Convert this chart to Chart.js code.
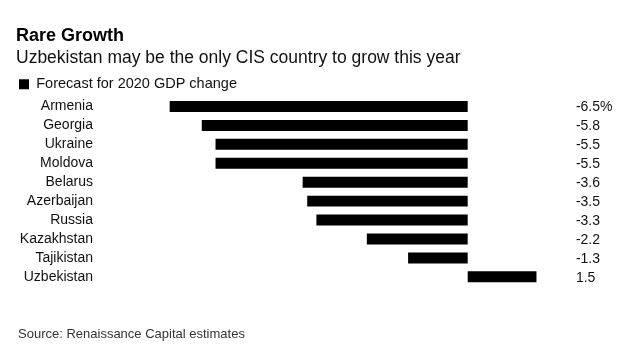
<!DOCTYPE html>
<html>
<head>
<meta charset="utf-8">
<script src="https://cdn.jsdelivr.net/npm/chart.js@4/dist/chart.umd.min.js"></script>
<style>
  html, body { margin: 0; padding: 0; background: #fff; }
  #wrap { position: relative; width: 641px; height: 357px; }
</style>
</head>
<body>
<div id="wrap"><canvas id="c" width="641" height="357"></canvas></div>
<script>
const titleText = 'Rare Growth';
const subtitleText = 'Uzbekistan may be the only CIS country to grow this year';
const seriesLabel = 'Forecast for 2020 GDP change';
const sourceText = 'Source: Renaissance Capital estimates';
const countries = ['Armenia', 'Georgia', 'Ukraine', 'Moldova', 'Belarus', 'Azerbaijan', 'Russia', 'Kazakhstan', 'Tajikistan', 'Uzbekistan'];
const gdpChange = [-6.5, -5.8, -5.5, -5.5, -3.6, -3.5, -3.3, -2.2, -1.3, 1.5];
const valueLabels = ['-6.5%', '-5.8', '-5.5', '-5.5', '-3.6', '-3.5', '-3.3', '-2.2', '-1.3', '1.5'];
const xMin = -7;
const xMax = 2.36;

const FONT = '"Liberation Sans", Arial, Helvetica, sans-serif';

const extras = {
  id: 'extras',
  afterDatasetsDraw(chart) {
    const ctx = chart.ctx;
    const meta = chart.getDatasetMeta(0);
    ctx.save();
    ctx.font = '14px ' + FONT;
    ctx.fillStyle = '#111';
    ctx.textAlign = 'left';
    ctx.textBaseline = 'middle';
    meta.data.forEach((bar, i) => {
      ctx.fillText(valueLabels[i], chart.chartArea.right, bar.y + 1);
    });
    ctx.font = '13px ' + FONT;
    ctx.fillStyle = '#333';
    ctx.fillText(sourceText, 18, 334);
    ctx.restore();
  }
};

new Chart(document.getElementById('c'), {
  type: 'bar',
  data: {
    labels: countries,
    datasets: [{
      label: seriesLabel,
      data: gdpChange,
      backgroundColor: '#000',
      borderWidth: 0,
      barPercentage: 0.58,
      categoryPercentage: 1
    }]
  },
  options: {
    indexAxis: 'y',
    responsive: false,
    animation: false,
    devicePixelRatio: 1,
    layout: { padding: { left: 16, right: 65.1, top: 0, bottom: 70.7 } },
    font: { family: FONT },
    plugins: {
      title: {
        display: true, text: titleText, align: 'start', color: '#000',
        font: { family: FONT, size: 18, weight: 'bold' },
        padding: { top: 25, bottom: 0 }
      },
      subtitle: {
        display: true, text: subtitleText, align: 'start', color: '#111',
        font: { family: FONT, size: 17.5 },
        padding: { top: 1.4, bottom: 5 }
      },
      legend: {
        display: true, position: 'top', align: 'start', maxHeight: 23,
        labels: {
          boxWidth: 10, boxHeight: 10, padding: 3, color: '#111',
          font: { family: FONT, size: 14.5 }
        }
      },
      tooltip: { enabled: false }
    },
    scales: {
      x: {
        display: false, min: xMin, max: xMax,
        grid: { display: false }
      },
      y: {
        position: 'left',
        grid: { display: false, drawTicks: false },
        border: { display: false },
        ticks: { color: '#111', padding: 53.75, autoSkip: false, font: { family: FONT, size: 14 } },
        afterFit(scale) { scale.width = 130.75; }
      }
    }
  },
  plugins: [extras]
});
</script>
</body>
</html>
